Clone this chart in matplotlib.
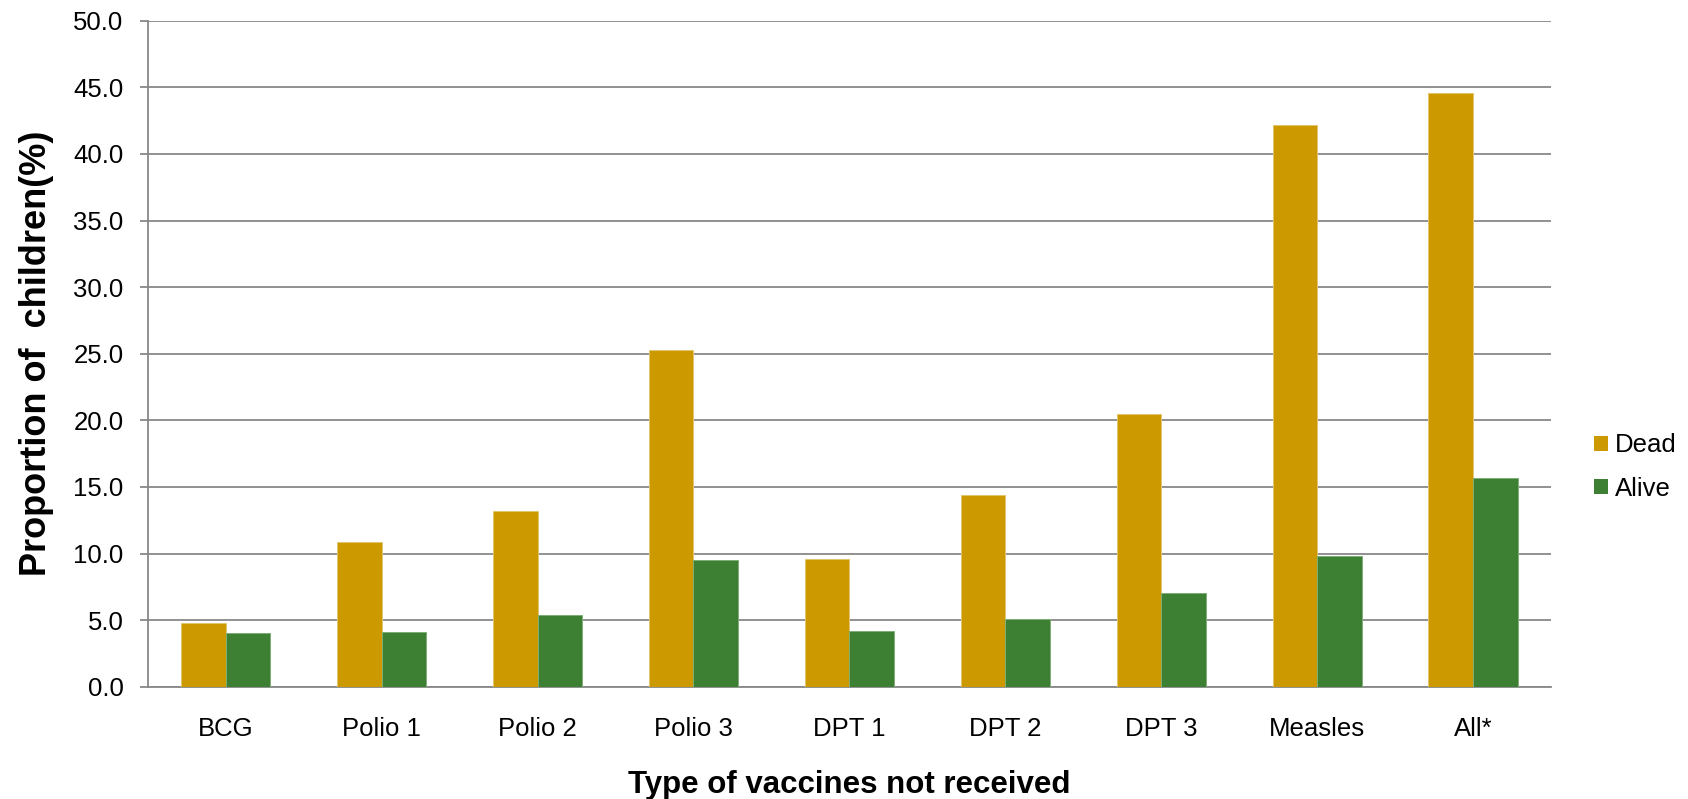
import matplotlib
matplotlib.use("Agg")
import matplotlib.pyplot as plt
from matplotlib.patches import Patch
import numpy as np

# Children who did not receive each vaccine, by survival status (%)
vaccines = ["BCG", "Polio 1", "Polio 2", "Polio 3", "DPT 1", "DPT 2", "DPT 3", "Measles", "All*"]
dead = [4.8, 10.9, 13.2, 25.3, 9.6, 14.4, 20.5, 42.2, 44.6]
alive = [4.0, 4.1, 5.4, 9.5, 4.2, 5.1, 7.0, 9.8, 15.7]
series_names = ["Dead", "Alive"]
yticks = np.arange(0, 50.1, 5)

DEAD_COLOR = "#CC9900"
ALIVE_COLOR = "#3D8033"
GRID_COLOR = "#888888"

plt.rcParams["font.family"] = ["Liberation Sans", "DejaVu Sans"]

W, H = 1688, 799
fig = plt.figure(figsize=(W / 100, H / 100), dpi=100)
left, right, top, bottom = 147.7, 1551, 20.7, 686.7
ax = fig.add_axes([left / W, 1 - bottom / H, (right - left) / W, (bottom - top) / H])

x = np.arange(len(vaccines))
bw = 0.286
ax.bar(x - bw / 2, dead, bw, color=DEAD_COLOR, edgecolor="#E2C46A", linewidth=0.7,
       label=series_names[0], zorder=3)
ax.bar(x + bw / 2, alive, bw, color=ALIVE_COLOR, edgecolor="#7FAF76", linewidth=0.7,
       label=series_names[1], zorder=3)

ax.set_xlim(-0.5, len(vaccines) - 0.5)
ax.set_ylim(0, 50)
ax.set_yticks(yticks)
ax.set_yticklabels([f"{v:.1f}" for v in yticks])
ax.set_xticks(x)
ax.set_xticklabels(vaccines)

ax.yaxis.grid(True, color=GRID_COLOR, linewidth=1.3, zorder=0)
ax.set_axisbelow(True)

for side in ("top", "right"):
    ax.spines[side].set_visible(False)
for side in ("left", "bottom"):
    ax.spines[side].set_color(GRID_COLOR)
    ax.spines[side].set_linewidth(1.3)

ax.tick_params(axis="y", length=5.5, width=1.3, color=GRID_COLOR, pad=12,
               labelsize=18.5, labelcolor="black")
ax.tick_params(axis="x", length=0, pad=21.5, labelsize=18.5, labelcolor="black")

ax.set_ylabel("Proportion of  children(%)", fontsize=26, fontweight="bold", labelpad=14)
ax.set_xlabel("Type of vaccines not received", fontsize=22.5, fontweight="bold", labelpad=21)

handles = [Patch(facecolor=DEAD_COLOR), Patch(facecolor=ALIVE_COLOR)]
ax.legend(handles, series_names, loc="center left",
          bbox_to_anchor=(1594 / W, 1 - 467 / H), bbox_transform=fig.transFigure,
          frameon=False, fontsize=18.5, handlelength=0.55, handleheight=0.55,
          handletextpad=0.25, labelspacing=0.75, borderpad=0, borderaxespad=0)

fig.savefig("out.png", dpi=100)
